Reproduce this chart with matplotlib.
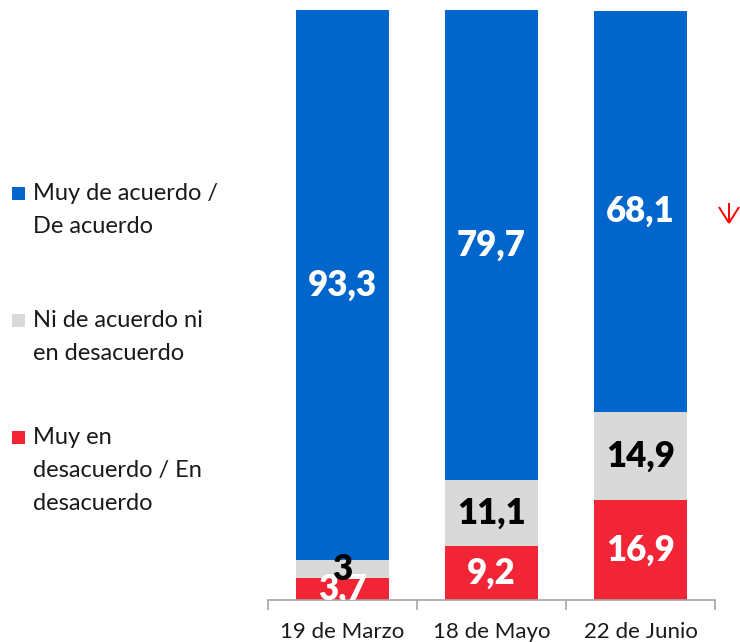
import matplotlib
matplotlib.use("Agg")
import matplotlib.pyplot as plt
from matplotlib.patches import Rectangle
from matplotlib.lines import Line2D
import numpy as np

plt.rcParams['font.family'] = ['Lato', 'DejaVu Sans']

# data
fechas = ['19 de Marzo', '18 de Mayo', '22 de Junio']
desacuerdo = [3.7, 9.2, 16.9]
ni_ni = [3.0, 11.1, 14.9]
acuerdo = [93.3, 79.7, 68.1]
etiquetas = ['Muy de acuerdo /\nDe acuerdo',
             'Ni de acuerdo ni\nen desacuerdo',
             'Muy en\ndesacuerdo / En\ndesacuerdo']

COLORS = {'azul': '#0066CC', 'gris': '#D9D9D9', 'rojo': '#F22536'}


def fmt(v):
    s = f'{v:.1f}'.replace('.', ',')
    return s[:-2] if s.endswith(',0') else s


fig = plt.figure(figsize=(7.4, 6.42), dpi=100)
ax = fig.add_axes([268 / 740, 1 - 600 / 642, (715 - 268) / 740, 590 / 642])

x = np.arange(len(fechas))
w = 0.62
series = [(desacuerdo, COLORS['rojo'], 'white'),
          (ni_ni, COLORS['gris'], 'black'),
          (acuerdo, COLORS['azul'], 'white')]
bottom = np.zeros(len(fechas))
for vals, col, tcol in series:
    vals = np.array(vals)
    ax.bar(x, vals, w, bottom=bottom, color=col, edgecolor='none', zorder=2)
    for xi, b, v in zip(x, bottom, vals):
        ax.text(xi, b + v / 2, fmt(v), ha='center', va='center',
                fontsize=25, fontweight='heavy', color=tcol, zorder=3,
                clip_on=True)
    bottom += vals

ax.set_xlim(-0.5, 2.5)
ax.set_ylim(0, 100)
for s in ['top', 'right', 'left']:
    ax.spines[s].set_visible(False)
ax.spines['bottom'].set_color('#A6A6A6')
ax.spines['bottom'].set_linewidth(1.2)
ax.set_yticks([])
ax.set_xticks(x)
ax.set_xticklabels(fechas, fontsize=16, color='#1a1a1a')
ax.tick_params(axis='x', which='major', length=0, pad=16)
ax.set_xticks([-0.5, 0.5, 1.5, 2.5], minor=True)
ax.tick_params(axis='x', which='minor', length=7, width=1.2,
               color='#A6A6A6', direction='out')

# legend at left
leg_y = [193, 320, 437]
leg_cols = [COLORS['azul'], COLORS['gris'], COLORS['rojo']]
for yy, lab, col in zip(leg_y, etiquetas, leg_cols):
    fig.patches.append(Rectangle((12 / 740, 1 - (yy + 7) / 642), 13 / 740, 13 / 642,
                                 transform=fig.transFigure, facecolor=col,
                                 edgecolor='none'))
    fig.text(33 / 740, 1 - (yy - 10) / 642, lab, ha='left', va='top',
             fontsize=17, color='#1a1a1a', linespacing=1.7)

# red down arrow next to last bar (pixel coords from the top-left)
def px(xp, yp):
    return xp / 740, 1 - yp / 642

for (x0, y0), (x1, y1) in [((729, 203), (729, 223)),
                           ((719, 207), (729, 223)),
                           ((739, 207), (729, 223))]:
    a, b = px(x0, y0)
    c, d = px(x1, y1)
    fig.add_artist(Line2D([a, c], [b, d], transform=fig.transFigure,
                          color='red', lw=1.4, solid_capstyle='butt'))

fig.savefig('out.png', dpi=100)
